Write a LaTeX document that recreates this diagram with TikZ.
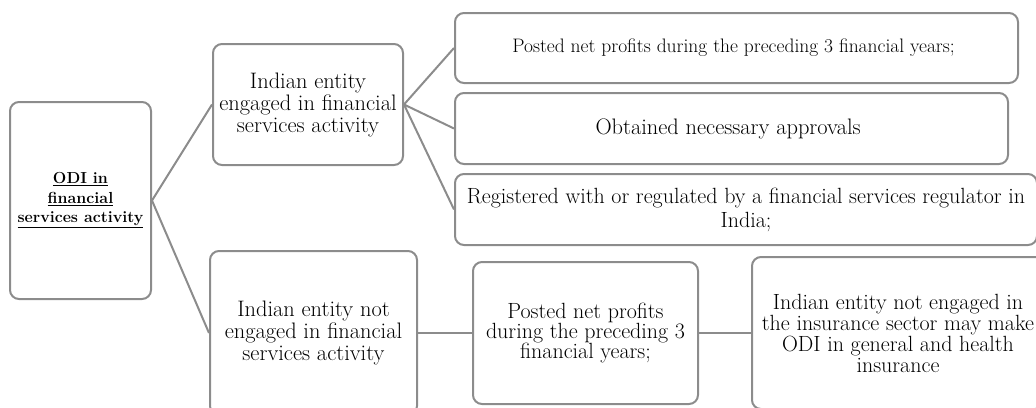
\documentclass[tikz,border=0pt]{standalone}
\usepackage{fontspec}
\begin{document}
\begin{tikzpicture}[x=1pt, y=-1pt,
    box/.style={draw=linegray, line width=2pt, rectangle, rounded corners=9pt, align=center, inner sep=2pt},
    link/.style={draw=linegray, line width=2pt}]
            \definecolor{linegray}{RGB}{140,140,140}
            \useasboundingbox (0,0) rectangle (1036,407);
            \clip (0,0) rectangle (1036,407);
            \node[box, minimum width=141pt, minimum height=197pt, font=\fontsize{16}{19.5}\selectfont\bfseries] (odi) at (80.5,200.5) {
                \underline{ODI in}\\
                \underline{financial}\\
                \underline{services activity}
            };
            \node[box, minimum width=190pt, minimum height=121pt, font=\fontsize{22.4}{22}\selectfont] (engaged) at (308,104.5) {
                Indian entity\\
                engaged in financial\\
                services activity
            };
            \node[box, minimum width=207pt, minimum height=164pt, font=\fontsize{22.4}{22}\selectfont] (notengaged) at (313.5,333) {
                Indian entity not\\
                engaged in financial\\
                services activity
            };
            \node[box, minimum width=563pt, minimum height=70pt, font=\fontsize{19.5}{20}\selectfont] (profits) at (736.5,48) {
                Posted net profits during the preceding 3 financial years;
            };
            \node[box, minimum width=553pt, minimum height=71pt, font=\fontsize{22.4}{22}\selectfont] (approvals) at (731.5,128.5) {
                Obtained necessary approvals
            };
            \node[box, minimum width=582pt, minimum height=71pt, font=\fontsize{22}{24}\selectfont] (regulated) at (746,209.5) {
                Registered with or regulated by a financial services regulator in\\
                India;
            };
            \node[box, minimum width=225pt, minimum height=142pt, font=\fontsize{22}{20}\selectfont] (netprofits) at (585.5,333) {
                Posted net profits\\
                during the preceding 3\\
                financial years;
            };
            \node[box, minimum width=292pt, minimum height=152pt, font=\fontsize{22}{21}\selectfont] (insurance) at (898,333) {
                Indian entity not engaged in\\
                the insurance sector may make\\
                ODI in general and health\\
                insurance
            };
            \draw[link] (odi.east) -- (engaged.west);
            \draw[link] (odi.east) -- (notengaged.west);
            \draw[link] (engaged.east) -- (profits.west);
            \draw[link] (engaged.east) -- (approvals.west);
            \draw[link] (engaged.east) -- (regulated.west);
            \draw[link] (notengaged.east) -- (netprofits.west);
            \draw[link] (netprofits.east) -- (insurance.west);
        \end{tikzpicture}
\end{document}
